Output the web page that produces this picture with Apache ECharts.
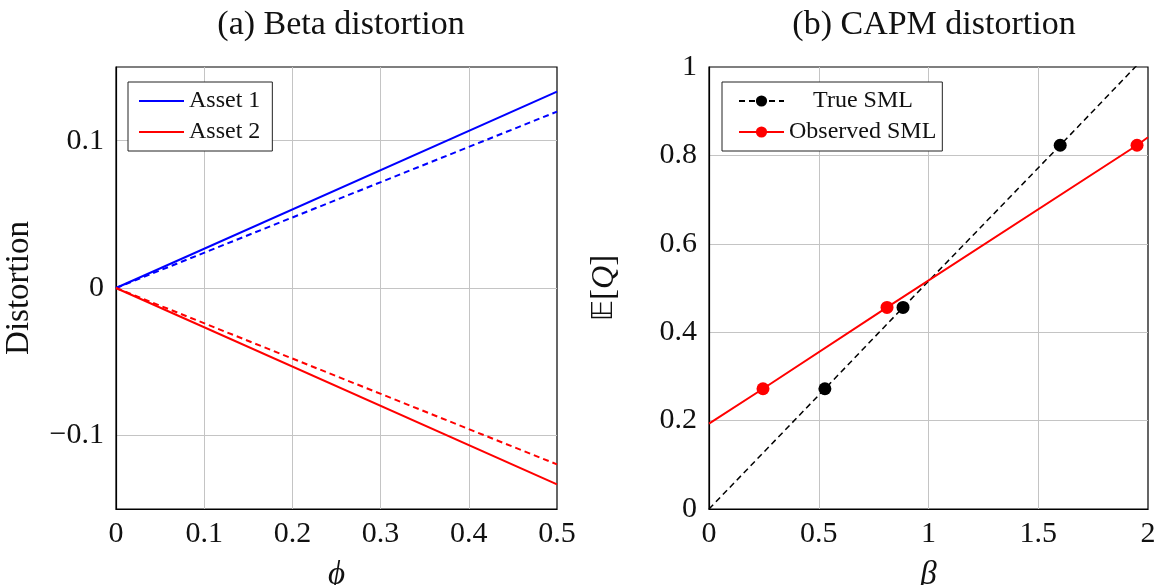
<!DOCTYPE html>
<html><head><meta charset="utf-8">
<script src="https://cdn.jsdelivr.net/npm/echarts@6/dist/echarts.min.js"></script>
<style>html,body{margin:0;padding:0;background:#fff}#chart{width:1161px;height:585px}</style>
</head><body><div id="chart"></div>
<script>
// Panel (a): beta distortion against phi
const phi = [0, 0.5];
const asset1Exact = [0, 0.1333];
const asset1Approx = [0, 0.1197];
const asset2Exact = [0, -0.1333];
const asset2Approx = [0, -0.1197];
const distortionTicks = [-0.1, 0, 0.1];

// Panel (b): true vs observed security market line
const trueBeta = [0.528, 0.884, 1.6];
const observedBeta = [0.246, 0.811, 1.95];
const expectedQ = [0.272, 0.456, 0.823];
const trueLineBeta = [0, 2];
const trueLineQ = [0, 1.03];
const observedLineBeta = [0, 2];
const observedLineQ = [0.193, 0.841];

const FONT = '"Liberation Serif", "DejaVu Serif", serif';

function fmt(v) {
  if (Math.abs(v) < 1e-9) return '0';
  const s = String(+v.toFixed(4));
  return v < 0 ? '\u2212' + s.slice(1) : s;
}
// only the listed distortion values get a label
function fmtDistortion(v) {
  return distortionTicks.some(t => Math.abs(t - v) < 1e-9) ? fmt(v) : '';
}

function pairs(xs, ys) { return xs.map((x, i) => [x, ys[i]]); }

// A line through the scatter points; only the points carry a marker
function sml(lineX, lineY, ptsX, ptsY) {
  const pts = pairs(ptsX, ptsY).map(p => ({ value: p }));
  const ends = pairs(lineX, lineY).map(p => ({ value: p, symbol: 'none' }));
  return ends.concat(pts).sort((a, b) => a.value[0] - b.value[0]);
}

const gridLine = { show: true, showMinLine: false, showMaxLine: false, lineStyle: { color: '#c4c4c4', width: 1 } };
const axisLine = { show: true, onZero: false, lineStyle: { color: '#000', width: 1.2 } };
const label = { color: '#111', fontFamily: FONT, fontSize: 30, formatter: fmt };
const nameStyle = { color: '#111', fontFamily: FONT, fontSize: 33 };
const titleStyle = { fontFamily: FONT, fontWeight: 'normal', fontSize: 34, color: '#111' };
const legendText = { fontFamily: FONT, fontSize: 24, color: '#111' };
const gridBox = { top: 67, bottom: 76, show: true, borderColor: '#000', borderWidth: 1.2,
  backgroundColor: 'transparent', outerBoundsMode: 'none', containLabel: false };

const chart = echarts.init(document.getElementById('chart'), null, { renderer: 'canvas' });
chart.setOption({
  animation: false,
  backgroundColor: '#fff',
  title: [
    { text: '(a) Beta distortion', left: 336, top: 3, textAlign: 'center', textStyle: titleStyle },
    { text: '(b) CAPM distortion', left: 929, top: 3, textAlign: 'center', textStyle: titleStyle }
  ],
  grid: [
    Object.assign({ left: 116, right: 604 }, gridBox),
    Object.assign({ left: 709, right: 13 }, gridBox)
  ],
  legend: [
    { data: ['Asset 1', 'Asset 2'], orient: 'vertical', left: 128, top: 82,
      backgroundColor: '#fff', borderColor: '#222', borderWidth: 1, borderRadius: 0,
      padding: [7, 12, 7, 10], itemGap: 7, itemWidth: 45, itemHeight: 14,
      itemStyle: { opacity: 0 },
      textStyle: legendText },
    { data: ['True SML', 'Observed SML'], orient: 'vertical', left: 722, top: 82,
      backgroundColor: '#fff', borderColor: '#222', borderWidth: 1, borderRadius: 0,
      padding: [7, 6, 7, 16], itemGap: 7, itemWidth: 45, itemHeight: 14,
      formatter: n => n === 'True SML' ? '{c|True SML}' : n,
      textStyle: Object.assign({}, legendText, {
        rich: { c: Object.assign({ width: 148, align: 'center' }, legendText) } }) }
  ],
  xAxis: [
    { gridIndex: 0, type: 'value', min: 0, max: 0.5, interval: 0.1,
      axisLine, axisTick: { show: false }, splitLine: gridLine,
      axisLabel: Object.assign({}, label, { margin: 10 }),
      name: '\u03D5', nameLocation: 'middle', nameGap: 50,
      nameTextStyle: Object.assign({}, nameStyle, { fontStyle: 'italic' }) },
    { gridIndex: 1, type: 'value', min: 0, max: 2, interval: 0.5,
      axisLine, axisTick: { show: false }, splitLine: gridLine,
      axisLabel: Object.assign({}, label, { margin: 10 }),
      name: '\u03B2', nameLocation: 'middle', nameGap: 50,
      nameTextStyle: Object.assign({}, nameStyle, { fontStyle: 'italic' }) }
  ],
  yAxis: [
    { gridIndex: 0, type: 'value', min: -0.15, max: 0.15, splitNumber: 3,
      axisLine, axisTick: { show: false }, splitLine: gridLine,
      axisLabel: Object.assign({}, label, { margin: 12, formatter: fmtDistortion }),
      name: 'Distortion', nameLocation: 'middle', nameGap: 80, nameRotate: 90,
      nameTextStyle: nameStyle },
    { gridIndex: 1, type: 'value', min: 0, max: 1, interval: 0.2,
      axisLine, axisTick: { show: false }, splitLine: gridLine,
      axisLabel: Object.assign({}, label, { margin: 12 }),
      name: '{e|\uD835\uDD3C}[{q|Q}]', nameLocation: 'middle', nameGap: 88, nameRotate: 90,
      nameTextStyle: Object.assign({}, nameStyle, {
        rich: { e: { fontFamily: '"DejaVu Sans", sans-serif', fontSize: 29, color: '#111' },
                q: { fontFamily: FONT, fontStyle: 'italic', fontSize: 32, color: '#111' } } }) }
  ],
  series: [
    { name: 'Asset 1', type: 'line', xAxisIndex: 0, yAxisIndex: 0, symbol: 'none',
      lineStyle: { color: '#0000ff', width: 2 }, itemStyle: { color: '#0000ff' },
      data: pairs(phi, asset1Exact) },
    { name: 'Asset 1 approx', type: 'line', xAxisIndex: 0, yAxisIndex: 0, symbol: 'none',
      lineStyle: { color: '#0000ff', width: 2, type: [6, 4] }, itemStyle: { color: '#0000ff' },
      data: pairs(phi, asset1Approx) },
    { name: 'Asset 2', type: 'line', xAxisIndex: 0, yAxisIndex: 0, symbol: 'none',
      lineStyle: { color: '#ff0000', width: 2 }, itemStyle: { color: '#ff0000' },
      data: pairs(phi, asset2Exact) },
    { name: 'Asset 2 approx', type: 'line', xAxisIndex: 0, yAxisIndex: 0, symbol: 'none',
      lineStyle: { color: '#ff0000', width: 2, type: [6, 4] }, itemStyle: { color: '#ff0000' },
      data: pairs(phi, asset2Approx) },
    { name: 'True SML', type: 'line', xAxisIndex: 1, yAxisIndex: 1, clip: true,
      symbol: 'circle', symbolSize: 13, showAllSymbol: true,
      lineStyle: { color: '#000', width: 1.5, type: [6, 4] }, itemStyle: { color: '#000' },
      data: sml(trueLineBeta, trueLineQ, trueBeta, expectedQ) },
    { name: 'Observed SML', type: 'line', xAxisIndex: 1, yAxisIndex: 1, clip: true,
      symbol: 'circle', symbolSize: 13, showAllSymbol: true,
      lineStyle: { color: '#ff0000', width: 2 }, itemStyle: { color: '#ff0000' },
      data: sml(observedLineBeta, observedLineQ, observedBeta, expectedQ) }
  ]
});
</script>
</body></html>
